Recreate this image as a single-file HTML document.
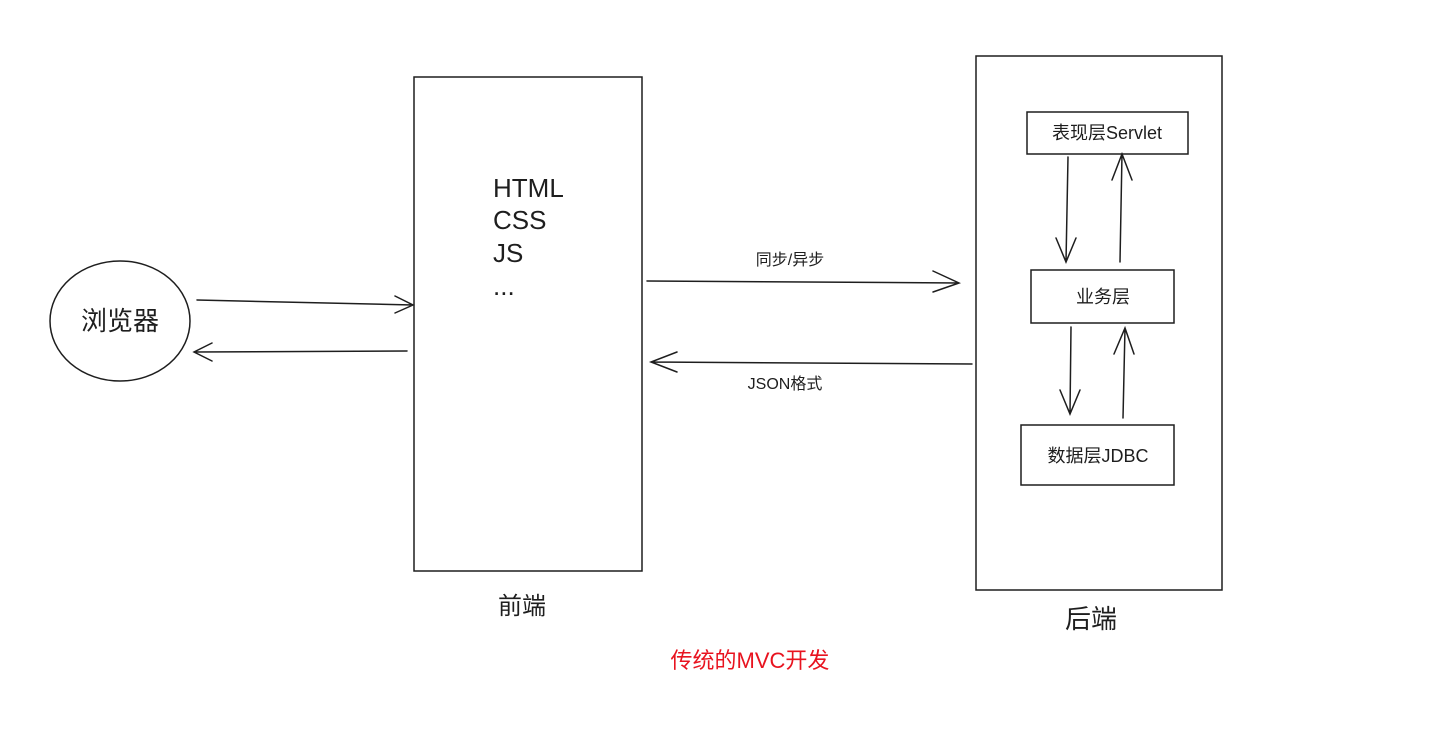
<!DOCTYPE html>
<html><head><meta charset="utf-8"><style>
html,body{margin:0;padding:0;background:#fff;}
svg{display:block;}
text{font-family:"Liberation Sans","Noto Sans CJK SC",sans-serif;fill:#1e1e1e;}
</style></head><body>
<svg width="1440" height="745" viewBox="0 0 1440 745" xmlns="http://www.w3.org/2000/svg">
<g fill="none" stroke="#1e1e1e" stroke-width="1.5" stroke-linecap="round">
<ellipse cx="120" cy="321" rx="70" ry="60"/>
<path d="M197 300 L413 305 M395 296 L413 305 L395 313"/>
<path d="M407 351 L194 352 M212 343 L194 352 L212 361"/>
<rect x="414" y="77" width="228" height="494"/>
<path d="M647 281 L959 283 M933 271 L959 283 L933 292"/>
<path d="M972 364 L651 362 M677 352 L651 362 L677 372"/>
<rect x="976" y="56" width="246" height="534"/>
<rect x="1027" y="112" width="161" height="42"/>
<rect x="1031" y="270" width="143" height="53"/>
<rect x="1021" y="425" width="153" height="60"/>
<path d="M1068 157 L1066 262 M1056 238 L1066 262 L1076 238"/>
<path d="M1120 262 L1122 154 M1112 180 L1122 154 L1132 180"/>
<path d="M1071 327 L1070 414 M1060 390 L1070 414 L1080 390"/>
<path d="M1123 418 L1125 328 M1114 354 L1125 328 L1134 354"/>
</g>
<text x="120" y="330" font-size="26" text-anchor="middle">浏览器</text>
<text x="493" y="197" font-size="26">HTML</text>
<text x="493" y="229" font-size="26">CSS</text>
<text x="493" y="262" font-size="26">JS</text>
<text x="493" y="295" font-size="26">...</text>
<text x="522" y="614" font-size="24" text-anchor="middle">前端</text>
<text x="1091" y="628" font-size="26" text-anchor="middle">后端</text>
<text x="790" y="265" font-size="16" text-anchor="middle">同步/异步</text>
<text x="785" y="389" font-size="16" text-anchor="middle">JSON格式</text>
<text x="1107" y="139" font-size="18" text-anchor="middle">表现层Servlet</text>
<text x="1103" y="303" font-size="18" text-anchor="middle">业务层</text>
<text x="1098" y="462" font-size="18" text-anchor="middle">数据层JDBC</text>
<text x="750" y="668" font-size="22" text-anchor="middle" style="fill:#e8131f">传统的MVC开发</text>
</svg>
</body></html>
